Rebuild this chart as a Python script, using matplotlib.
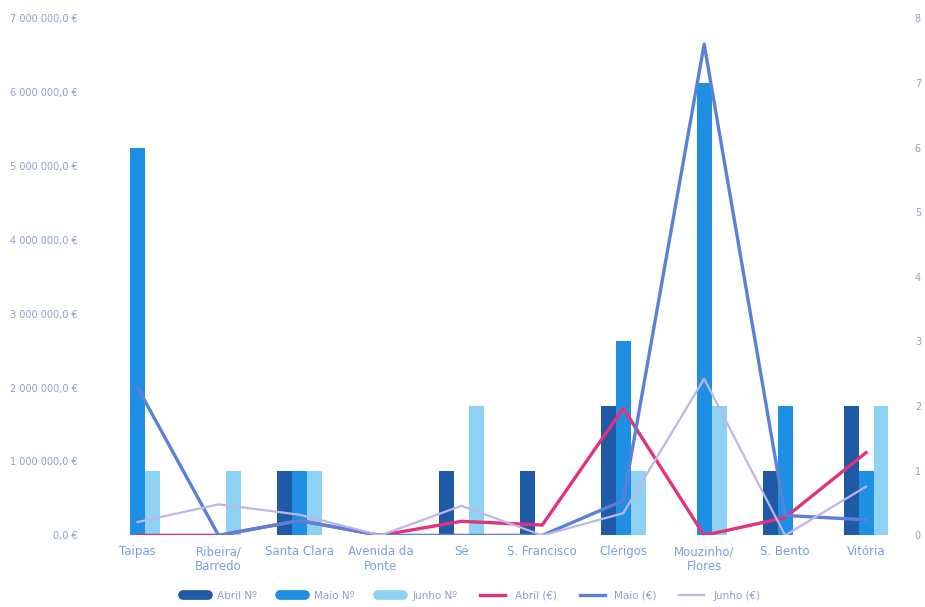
import numpy as np
import matplotlib.pyplot as plt
from matplotlib.lines import Line2D

zonas = ["Taipas", "Ribeira/\nBarredo", "Santa Clara", "Avenida da\nPonte", "Sé",
         "S. Francisco", "Clérigos", "Mouzinho/\nFlores", "S. Bento", "Vitória"]

# numero de processos por mes
abril_n = [0, 0, 1, 0, 1, 1, 2, 0, 1, 2]
maio_n = [6, 0, 1, 0, 0, 0, 3, 7, 2, 1]
junho_n = [1, 1, 1, 0, 2, 0, 1, 2, 0, 2]

# valores em euros por mes
abril_eur = [0, 0, 200000, 0, 190000, 140000, 1720000, 0, 240000, 1120000]
maio_eur = [2000000, 0, 200000, 0, 0, 0, 470000, 6650000, 270000, 210000]
junho_eur = [180000, 420000, 280000, 0, 400000, 0, 300000, 2120000, 0, 660000]

c_abril_n, c_maio_n, c_junho_n = "#1f5aa6", "#1e8fe3", "#8dd2f2"
c_abril_e, c_maio_e, c_junho_e = "#e2327c", "#5a80d8", "#bdb6ec"
txt = "#8c9fcf"

fig = plt.figure(figsize=(9.25, 6.07), dpi=100)
ax = fig.add_axes([0.105, 0.118, 0.875, 0.852])
ax2 = ax.twinx()

x = np.arange(len(zonas))
w = 0.185
ax2.bar(x - w, abril_n, w, color=c_abril_n)
ax2.bar(x, maio_n, w, color=c_maio_n)
ax2.bar(x + w, junho_n, w, color=c_junho_n)
ax2.set_ylim(0, 8)
ax2.set_yticks(range(9))

ax.plot(x, abril_eur, color=c_abril_e, lw=2.4)
ax.plot(x, maio_eur, color=c_maio_e, lw=2.4)
ax.plot(x, junho_eur, color=c_junho_e, lw=1.6)
ax.set_ylim(0, 7000000)
ax.set_yticks(np.arange(0, 7000001, 1000000))
ax.set_yticklabels(["0,0 €"] + ["{} 000 000,0 €".format(i) for i in range(1, 8)])
ax.set_xlim(-0.5, len(zonas) - 0.5)
ax.set_xticks(x)
ax.set_xticklabels(zonas)

# linhas por cima das barras
ax.set_zorder(ax2.get_zorder() + 1)
ax.patch.set_visible(False)

for a in (ax, ax2):
    for s in a.spines.values():
        s.set_visible(False)
    a.tick_params(length=0, colors=txt, labelsize=7)
ax.tick_params(axis="x", labelsize=8.5, pad=7, colors="#7f9be0")
ax.tick_params(axis="y", pad=14)
ax2.tick_params(axis="y", pad=6)

handles = [
    Line2D([], [], color=c_abril_n, lw=7, solid_capstyle="round"),
    Line2D([], [], color=c_maio_n, lw=7, solid_capstyle="round"),
    Line2D([], [], color=c_junho_n, lw=7, solid_capstyle="round"),
    Line2D([], [], color=c_abril_e, lw=2.4),
    Line2D([], [], color=c_maio_e, lw=2.4),
    Line2D([], [], color=c_junho_e, lw=1.6),
]
labels = ["Abril Nº", "Maio Nº", "Junho Nº", "Abril (€)", "Maio (€)", "Junho (€)"]
leg = fig.legend(handles, labels, loc="lower center", bbox_to_anchor=(0.51, -0.005), ncol=6,
                 frameon=False, fontsize=7.5, handlelength=2.4, columnspacing=2.2,
                 handletextpad=0.9)
for t in leg.get_texts():
    t.set_color(txt)

fig.savefig("out.png", dpi=100)
